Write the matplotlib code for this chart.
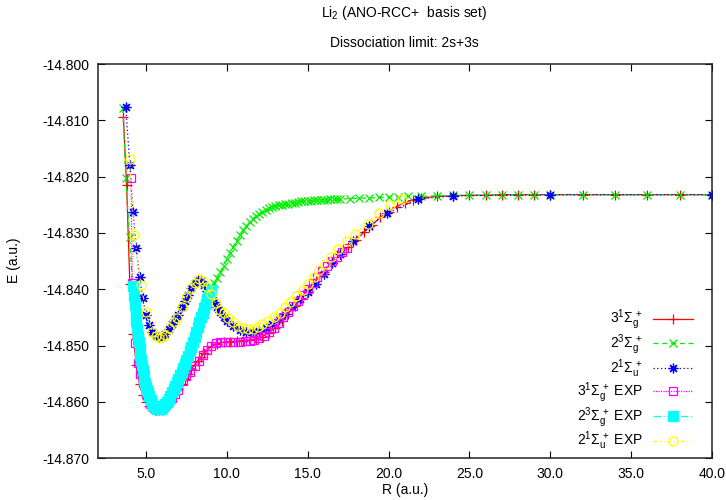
import matplotlib
matplotlib.use("Agg")
import matplotlib.pyplot as plt
from matplotlib.ticker import MultipleLocator, FormatStrFormatter

plt.rcParams['font.family'] = ['Liberation Sans', 'DejaVu Sans']
plt.rcParams['mathtext.fontset'] = 'custom'
plt.rcParams['mathtext.rm'] = 'Liberation Sans'
plt.rcParams['mathtext.it'] = 'Liberation Sans:italic'
plt.rcParams['mathtext.bf'] = 'Liberation Sans:bold'

# ---- data (R in a.u., E in a.u.) ----
R_3sg = [3.6, 3.8, 4.0, 4.2, 4.4, 4.6, 4.8, 5.0, 5.2, 5.4, 5.6, 5.8, 6.0, 6.2, 6.4, 6.6, 6.8, 7.0,
         7.2, 7.4, 7.6, 7.8, 8.0, 8.2, 8.4, 8.6, 8.8, 9.0, 9.4, 9.8, 10.2, 10.6, 11.0, 11.4, 11.8,
         12.2, 12.6, 13.0, 13.4, 13.8, 14.2, 14.6, 15.0, 15.5, 16.0, 16.5, 17.0, 17.5, 18.0, 18.5,
         19.0, 19.5, 20.0, 20.5, 21.0, 21.5, 22.0, 23.0, 24.0, 25.0, 26.0, 27.0, 28.0, 29.0, 30.0,
         32.0, 34.0, 36.0, 38.0, 40.0]
E_3sg = [-14.8094, -14.8215, -14.8390, -14.8480, -14.8535, -14.8568, -14.8588, -14.8600, -14.8608,
         -14.8612, -14.8614, -14.8614, -14.8611, -14.8606, -14.8599, -14.8592, -14.8585, -14.8577,
         -14.8568, -14.8559, -14.8550, -14.8542, -14.8534, -14.8527, -14.8520, -14.8513, -14.8507,
         -14.8502, -14.8497, -14.8494, -14.8493, -14.8492, -14.8491, -14.8490, -14.8488, -14.8484,
         -14.8477, -14.8468, -14.8457, -14.8443, -14.8429, -14.8415, -14.8402, -14.8386, -14.8369,
         -14.8352, -14.8338, -14.8325, -14.8312, -14.8298, -14.8285, -14.8272, -14.8262, -14.8253,
         -14.8246, -14.8241, -14.8238, -14.8235, -14.8234, -14.8233, -14.8233, -14.8232, -14.8232,
         -14.8232, -14.8232, -14.8232, -14.8232, -14.8232, -14.8232, -14.8232]

R_23sg = [3.57, 3.75, 3.98, 4.2, 4.4, 4.6, 4.8, 5.0, 5.2, 5.4, 5.6, 5.8, 6.0, 6.2, 6.4, 6.6, 6.8,
          7.0, 7.2, 7.4, 7.6, 7.8, 8.0, 8.2, 8.4, 8.6, 8.8, 9.0, 9.2, 9.4, 9.6, 9.8, 10.0, 10.2,
          10.4, 10.6, 10.8, 11.0, 11.2, 11.4, 11.6, 11.8, 12.0, 12.2, 12.4, 12.6, 12.8, 13.0, 13.2,
          13.4, 13.6, 13.8, 14.0, 14.2, 14.4, 14.6, 14.8, 15.0, 15.2, 15.4, 15.6, 15.8, 16.0, 16.2,
          16.4, 16.6, 16.8, 17.0, 17.6, 18.2, 18.8, 19.4, 20.0, 20.6, 21.2, 22.0, 23.0, 24.0, 25.0,
          26.0, 27.0, 28.0, 29.0, 30.0, 32.0, 34.0, 36.0, 38.0, 40.0]
E_23sg = [-14.8079, -14.8203, -14.8307, -14.8410, -14.8480, -14.8530, -14.8565, -14.8588, -14.8601,
          -14.8609, -14.8614, -14.8616, -14.8614, -14.8609, -14.8601, -14.8592, -14.8580, -14.8567,
          -14.8553, -14.8538, -14.8522, -14.8505, -14.8487, -14.8468, -14.8449, -14.8430, -14.8412,
          -14.8396, -14.8388, -14.8380, -14.8370, -14.8359, -14.8347, -14.8336, -14.8325, -14.8314,
          -14.8304, -14.8295, -14.8288, -14.8281, -14.8275, -14.8270, -14.8266, -14.8262, -14.8259,
          -14.8256, -14.8254, -14.8252, -14.8251, -14.8250, -14.8249, -14.8248, -14.8247, -14.8246,
          -14.8245, -14.8244, -14.8244, -14.8243, -14.8243, -14.8242, -14.8242, -14.8241, -14.8241,
          -14.8241, -14.8240, -14.8240, -14.8240, -14.8240, -14.8239, -14.8238, -14.8238, -14.8237,
          -14.8236, -14.8236, -14.8235, -14.8235, -14.8234, -14.8233, -14.8233, -14.8233, -14.8233,
          -14.8232, -14.8232, -14.8232, -14.8232, -14.8232, -14.8232, -14.8232, -14.8232]

R_21su = [3.75, 4.0, 4.2, 4.4, 4.6, 4.8, 5.0, 5.2, 5.4, 5.6, 5.8, 6.0, 6.2, 6.4, 6.6, 6.8, 7.0, 7.2,
          7.4, 7.6, 7.8, 8.0, 8.2, 8.4, 8.6, 8.8, 9.0, 9.2, 9.4, 9.6, 9.8, 10.0, 10.4, 10.8, 11.2,
          11.6, 12.0, 12.4, 12.8, 13.2, 13.6, 14.0, 14.5, 15.0, 15.5, 16.0, 16.5, 17.0, 17.8, 18.8,
          19.9, 21.8, 24.0, 30.0, 40.0]
E_21su = [-14.8077, -14.8180, -14.8263, -14.8327, -14.8378, -14.8416, -14.8446, -14.8463, -14.8475,
          -14.8482, -14.8485, -14.8484, -14.8480, -14.8471, -14.8462, -14.8453, -14.8445, -14.8432,
          -14.8421, -14.8410, -14.8398, -14.8389, -14.8384, -14.8385, -14.8393, -14.8403, -14.8413,
          -14.8423, -14.8432, -14.8441, -14.8450, -14.8457, -14.8466, -14.8472, -14.8475, -14.8476,
          -14.8474, -14.8469, -14.8462, -14.8453, -14.8443, -14.8431, -14.8418, -14.8404, -14.8390,
          -14.8372, -14.8354, -14.8338, -14.8315, -14.8288, -14.8265, -14.8240, -14.8234, -14.8232,
          -14.8232]

R_3sg_exp = [4.08, 4.15, 4.33, 4.5, 4.65, 4.8, 5.0, 5.25, 5.5, 5.75, 6.0, 6.25, 6.6, 6.8, 7.0, 7.3,
             7.5, 7.7, 8.0, 8.25, 8.5, 8.75, 9.0, 9.3, 9.6, 9.9, 10.2, 10.5, 10.8, 11.1, 11.4, 11.7,
             12.0, 12.3, 12.6, 12.9, 13.2, 13.5, 13.8, 14.1, 14.4, 14.7, 15.0, 15.3, 15.6, 15.9,
             16.2, 16.5, 16.8, 17.1, 17.4]
E_3sg_exp = [-14.8203, -14.8389, -14.8496, -14.8530, -14.8550, -14.8567, -14.8585, -14.8603,
             -14.8610, -14.8614, -14.8612, -14.8605, -14.8593, -14.8586, -14.8578, -14.8562,
             -14.8554, -14.8546, -14.8536, -14.8527, -14.8516, -14.8508, -14.8500, -14.8496,
             -14.8494, -14.8494, -14.8494, -14.8494, -14.8493, -14.8492, -14.8491, -14.8490,
             -14.8487, -14.8482, -14.8476, -14.8468, -14.8460, -14.8450, -14.8440, -14.8430,
             -14.8420, -14.8410, -14.8399, -14.8389, -14.8378, -14.8368, -14.8359, -14.8350,
             -14.8342, -14.8334, -14.8326]

R_23sg_exp = [4.20, 4.25, 4.30, 4.35, 4.40, 4.45, 4.50, 4.55, 4.60, 4.65, 4.70, 4.75, 4.80, 4.85,
              4.90, 4.95, 5.00, 5.05, 5.10, 5.2, 5.3, 5.4, 5.5, 5.6, 5.7,
              5.8, 5.9, 6.0, 6.1, 6.2, 6.3, 6.4, 6.5, 6.6, 6.7, 6.8, 6.9, 7.0, 7.1, 7.2, 7.3, 7.4,
              7.5, 7.6, 7.7, 7.8, 7.9, 8.0, 8.1, 8.2, 8.3, 8.4, 8.5, 8.6, 8.7, 8.8, 8.9, 9.0]
E_23sg_exp = [-14.8395, -14.8412, -14.8428, -14.8443, -14.8457, -14.8470, -14.8482, -14.8494,
              -14.8505, -14.8516, -14.8526, -14.8535, -14.8544, -14.8553, -14.8560, -14.8567,
              -14.8573, -14.8578, -14.8583, -14.8590, -14.8597, -14.8603, -14.8607, -14.8610,
              -14.8612, -14.8613, -14.8613, -14.8611, -14.8608, -14.8604, -14.8600, -14.8595,
              -14.8589, -14.8583, -14.8577, -14.8571, -14.8565, -14.8559, -14.8553, -14.8546,
              -14.8540, -14.8533, -14.8526, -14.8518, -14.8510, -14.8502, -14.8494, -14.8485,
              -14.8476, -14.8467, -14.8458, -14.8450, -14.8442, -14.8434, -14.8426, -14.8418,
              -14.8410, -14.8402]

R_21su_exp = [3.98, 4.28, 4.70, 5.0, 5.4, 5.6, 5.8, 6.0, 6.2, 6.45, 6.7, 6.9, 7.2, 7.5, 7.8, 8.0,
              8.25, 8.5, 8.75, 9.0, 9.3, 9.6, 9.8, 10.1, 10.4, 10.7, 11.0, 11.3, 11.6, 11.9, 12.2,
              12.55, 12.9, 13.3, 13.6, 13.9, 14.3, 14.7, 15.0, 15.4, 15.7, 16.05, 16.45, 16.9,
              17.4, 17.9, 18.7, 19.4, 20.1, 20.8]
E_21su_exp = [-14.8169, -14.8304, -14.8392, -14.8440, -14.8475, -14.8483, -14.8486, -14.8485,
              -14.8481, -14.8469, -14.8458, -14.8451, -14.8432, -14.8414, -14.8398, -14.8388,
              -14.8381, -14.8386, -14.8396, -14.8408, -14.8425, -14.8436, -14.8442, -14.8451,
              -14.8458, -14.8465, -14.8469, -14.8471, -14.8470, -14.8467, -14.8462, -14.8457,
              -14.8450, -14.8442, -14.8432, -14.8423, -14.8412, -14.8401, -14.8391, -14.8378,
              -14.8366, -14.8355, -14.8342, -14.8328, -14.8314, -14.8301, -14.8284, -14.8265,
              -14.8250, -14.8240]

labels = [r"$3^1\Sigma_\mathrm{g}^{\,+}$", r"$2^3\Sigma_\mathrm{g}^{\,+}$", r"$2^1\Sigma_\mathrm{u}^{\,+}$",
          r"$3^1\Sigma_\mathrm{g}^{\,+}$ EXP", r"$2^3\Sigma_\mathrm{g}^{\,+}$ EXP", r"$2^1\Sigma_\mathrm{u}^{\,+}$ EXP"]

fig = plt.figure(figsize=(7.26, 5.0), dpi=100)
ax = fig.add_axes([97.5/726, 1 - 458.3/500, (712 - 97.5)/726, (458.3 - 64)/500])

ax.plot(R_3sg, E_3sg, color='#ff0000', lw=0.9, ls='-', marker='+', ms=6.5, mew=0.9, label=labels[0])
ax.plot(R_23sg, E_23sg, color='#00ee00', lw=0.9, ls=(0, (4, 3)), marker='x', ms=5.5, mew=0.9, label=labels[1])
ax.plot(R_21su, E_21su, color='#0000ff', lw=0.9, ls=(0, (1, 2)), marker=(8, 2, 0), ms=7, mew=0.9, label=labels[2])
ax.plot(R_3sg_exp, E_3sg_exp, color='#ff00ff', lw=0.9, ls=(0, (1, 1)), marker='s', ms=6, mew=0.9,
        mfc='none', label=labels[3])
ax.plot(R_23sg_exp, E_23sg_exp, color='#00ffff', lw=0.9, ls=(0, (6, 2, 1, 2)), marker='s', ms=7.5,
        mew=0.9, label=labels[4])
ax.plot(R_21su_exp, E_21su_exp, color='#ffff00', lw=0.9, ls=(0, (3, 2, 1, 2, 1, 2)), marker='o', ms=6.5,
        mew=0.9, mfc='none', label=labels[5])

ax.set_xlim(2.0, 40.0)
ax.set_ylim(-14.870, -14.800)
ax.yaxis.set_major_locator(MultipleLocator(0.01))
ax.xaxis.set_major_formatter(FormatStrFormatter('%.1f'))
ax.yaxis.set_major_formatter(FormatStrFormatter('%.3f'))
ax.set_xticks([5, 10, 15, 20, 25, 30, 35, 40])
ax.tick_params(direction='in', top=True, right=True, length=5, width=0.8, labelsize=10, pad=6)
for s in ax.spines.values():
    s.set_linewidth(1.1)
    s.set_color('#222222')

leg = ax.legend(loc='lower right', bbox_to_anchor=(693 / 726, 1 - 452.5 / 500), bbox_transform=fig.transFigure,
                frameon=False, markerfirst=False, numpoints=1, fontsize=10, handlelength=2.9,
                handletextpad=0.7, labelspacing=0.02, borderpad=0, borderaxespad=0)

fig.text(404 / 726, 1 - 13 / 500, r"Li$_2$ (ANO-RCC+  basis set)", ha='center', va='center', fontsize=10)
fig.text(404 / 726, 1 - 43 / 500, "Dissociation limit: 2s+3s", ha='center', va='center', fontsize=10)
fig.text(14 / 726, 1 - 260 / 500, "E (a.u.)", rotation=90, ha='center', va='center', fontsize=10)
fig.text(405 / 726, 1 - 490 / 500, "R (a.u.)", ha='center', va='center', fontsize=10)

fig.savefig("out.png", dpi=100)
